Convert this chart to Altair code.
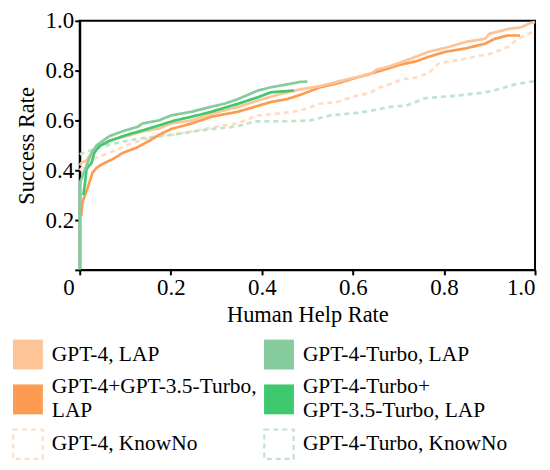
import altair as alt
import pandas as pd

FONT = "Liberation Serif"

SERIES = [
    "GPT-4, KnowNo",
    "GPT-4-Turbo, KnowNo",
    "GPT-4+GPT-3.5-Turbo, LAP",
    "GPT-4, LAP",
    "GPT-4-Turbo+GPT-3.5-Turbo, LAP",
    "GPT-4-Turbo, LAP",
]
COLORS = ["#FEDDC4", "#BFE4CB", "#FD9C50", "#FDC497", "#3FC96F", "#86CB9C"]
DASHES = [[5, 4], [5, 4], [1, 0], [1, 0], [1, 0], [1, 0]]

# GPT-4, LAP
g4_lap_x = [0, 0.004, 0.015, 0.026, 0.043, 0.065, 0.10, 0.138, 0.174, 0.202, 0.246, 0.289, 0.348, 0.391,
            0.441, 0.485, 0.528, 0.572, 0.608, 0.637, 0.652, 0.68, 0.702, 0.73, 0.767, 0.811, 0.847, 0.89,
            0.90, 0.94, 0.97, 0.988, 1.0]
g4_lap_y = [0.42, 0.43, 0.44, 0.47, 0.497, 0.52, 0.536, 0.555, 0.568, 0.588, 0.60, 0.627, 0.654, 0.68,
            0.706, 0.725, 0.738, 0.758, 0.774, 0.784, 0.804, 0.817, 0.831, 0.85, 0.876, 0.895, 0.915, 0.928,
            0.948, 0.967, 0.974, 0.99, 0.995]

# GPT-4+GPT-3.5-Turbo, LAP
g4mix_lap_x = [0.003, 0.0065, 0.017, 0.028, 0.037, 0.05, 0.073, 0.095, 0.124, 0.152, 0.174, 0.20, 0.246,
               0.289, 0.348, 0.383, 0.42, 0.456, 0.485, 0.528, 0.572, 0.608, 0.643, 0.68, 0.702, 0.738,
               0.767, 0.804, 0.847, 0.89, 0.912, 0.94, 0.967]
g4mix_lap_y = [0.216, 0.275, 0.327, 0.39, 0.41, 0.425, 0.445, 0.47, 0.49, 0.517, 0.542, 0.565, 0.588,
               0.615, 0.635, 0.654, 0.674, 0.686, 0.703, 0.733, 0.752, 0.772, 0.79, 0.81, 0.823, 0.837,
               0.856, 0.876, 0.889, 0.908, 0.928, 0.941, 0.941]

# GPT-4, KnowNo
g4_kn_x = [0, 0.022, 0.037, 0.065, 0.10, 0.138, 0.18, 0.202, 0.246, 0.304, 0.347, 0.39, 0.434, 0.485,
           0.528, 0.565, 0.608, 0.637, 0.659, 0.68, 0.709, 0.738, 0.767, 0.789, 0.833, 0.869, 0.905, 0.94,
           0.963, 1.0]
g4_kn_y = [0.40, 0.44, 0.45, 0.47, 0.497, 0.523, 0.54, 0.542, 0.556, 0.576, 0.588, 0.62, 0.627, 0.64,
           0.667, 0.674, 0.699, 0.71, 0.733, 0.745, 0.765, 0.772, 0.791, 0.83, 0.843, 0.856, 0.869, 0.895,
           0.928, 0.96]

# GPT-4-Turbo, LAP
g4t_lap_x = [0, 0, 0.004, 0.015, 0.026, 0.037, 0.065, 0.10, 0.128, 0.138, 0.174, 0.20, 0.246, 0.289,
             0.318, 0.348, 0.391, 0.42, 0.456, 0.485, 0.50]
g4t_lap_y = [0.0, 0.35, 0.366, 0.42, 0.47, 0.50, 0.537, 0.56, 0.575, 0.588, 0.60, 0.62, 0.635, 0.655,
             0.667, 0.686, 0.72, 0.733, 0.745, 0.755, 0.756]

# GPT-4-Turbo+GPT-3.5-Turbo, LAP
g4tmix_lap_x = [0.008, 0.011, 0.015, 0.026, 0.032, 0.043, 0.065, 0.10, 0.138, 0.174, 0.205, 0.246, 0.289,
                0.348, 0.391, 0.42, 0.47]
g4tmix_lap_y = [0.30, 0.34, 0.405, 0.43, 0.47, 0.497, 0.517, 0.54, 0.56, 0.58, 0.598, 0.615, 0.635,
                0.667, 0.693, 0.713, 0.72]

# GPT-4-Turbo, KnowNo
g4t_kn_x = [0, 0.03, 0.065, 0.10, 0.138, 0.174, 0.205, 0.274, 0.347, 0.383, 0.42, 0.485, 0.506, 0.55,
            0.608, 0.643, 0.68, 0.717, 0.738, 0.76, 0.833, 0.89, 0.92, 0.956, 1.0]
g4t_kn_y = [0.464, 0.484, 0.503, 0.517, 0.529, 0.536, 0.543, 0.562, 0.576, 0.596, 0.596, 0.598, 0.60,
            0.62, 0.63, 0.64, 0.654, 0.66, 0.674, 0.69, 0.70, 0.713, 0.725, 0.745, 0.758]

SERIES_DATA = {
    "GPT-4, KnowNo": (g4_kn_x, g4_kn_y),
    "GPT-4-Turbo, KnowNo": (g4t_kn_x, g4t_kn_y),
    "GPT-4+GPT-3.5-Turbo, LAP": (g4mix_lap_x, g4mix_lap_y),
    "GPT-4, LAP": (g4_lap_x, g4_lap_y),
    "GPT-4-Turbo+GPT-3.5-Turbo, LAP": (g4tmix_lap_x, g4tmix_lap_y),
    "GPT-4-Turbo, LAP": (g4t_lap_x, g4t_lap_y),
}

# Legend (row-major, 2 columns)
LEGEND_SERIES = [
    "GPT-4, LAP", "GPT-4-Turbo, LAP",
    "GPT-4+GPT-3.5-Turbo, LAP", "GPT-4-Turbo+GPT-3.5-Turbo, LAP",
    "GPT-4, KnowNo", "GPT-4-Turbo, KnowNo",
]
LEGEND_LABELS = [
    "GPT-4, LAP", "GPT-4-Turbo, LAP",
    "GPT-4+GPT-3.5-Turbo,\nLAP", "GPT-4-Turbo+\nGPT-3.5-Turbo, LAP",
    "GPT-4, KnowNo", "GPT-4-Turbo, KnowNo",
]
LEGEND_COL = [0, 1, 0, 1, 0, 1]
LEGEND_ROW = [0, 0, 1, 1, 2, 2]
LEGEND_KIND = ["LAP", "LAP", "LAP", "LAP", "KnowNo", "KnowNo"]

TICKS = [0, 0.2, 0.4, 0.6, 0.8, 1.0]

rows = []
for s in SERIES:
    xs, ys = SERIES_DATA[s]
    for i, (xv, yv) in enumerate(zip(xs, ys)):
        rows.append({"series": s, "x": xv, "y": yv, "i": i})
df = pd.DataFrame(rows)

color_scale = alt.Scale(domain=SERIES, range=COLORS)

main = alt.Chart(df).mark_line(strokeWidth=2.7).encode(
    x=alt.X("x:Q", scale=alt.Scale(domain=[0, 1], nice=False),
            axis=alt.Axis(values=TICKS, title="Human Help Rate", titlePadding=4,
                          labelExpr="datum.value == 0 ? '0' : format(datum.value, '.1f')",
                          labelOffset={"condition": {"test": "datum.value == 0", "value": -17}, "value": 0},
                          labelPadding=2)),
    y=alt.Y("y:Q", scale=alt.Scale(domain=[0, 1], nice=False),
            axis=alt.Axis(values=TICKS, title="Success Rate", titlePadding=7,
                          labelExpr="datum.value == 0 ? '' : format(datum.value, '.1f')",
                          labelPadding=1)),
    color=alt.Color("series:N", scale=color_scale, legend=None),
    strokeDash=alt.StrokeDash("series:N", scale=alt.Scale(domain=SERIES, range=DASHES), legend=None),
    order="i:Q",
).properties(width=457, height=250,
             view=alt.ViewBackground(stroke="black", strokeWidth=2))

leg_df = pd.DataFrame({
    "series": LEGEND_SERIES, "label": LEGEND_LABELS,
    "col": LEGEND_COL, "row": LEGEND_ROW, "kind": LEGEND_KIND,
})

lx = alt.X("col:Q", scale=alt.Scale(domain=[0, 1], range=[-52, 200]), axis=None)
ly = alt.Y("row:Q", scale=alt.Scale(domain=[0, 2], range=[26, 116]), axis=None)

leg_fill = alt.Chart(leg_df).transform_filter("datum.kind == 'LAP'").mark_square(
    size=900, opacity=1, filled=True).encode(
    x=lx, y=ly, color=alt.Color("series:N", scale=color_scale, legend=None))

leg_dash = alt.Chart(leg_df).transform_filter("datum.kind == 'KnowNo'").mark_square(
    size=870, opacity=1, filled=False, strokeWidth=2.2, strokeDash=[5, 4]).encode(
    x=lx, y=ly, color=alt.Color("series:N", scale=color_scale, legend=None))

leg_text1 = alt.Chart(leg_df).transform_filter("indexof(datum.label, '\\n') < 0").mark_text(
    align="left", baseline="middle", dx=24, font=FONT, fontSize=21.5, color="black").encode(
    x=lx, y=ly, text="label:N")

leg_text2 = alt.Chart(leg_df).transform_filter("indexof(datum.label, '\\n') >= 0").mark_text(
    align="left", baseline="middle", dx=24, dy=-12, font=FONT, fontSize=21.5,
    lineBreak="\n", lineHeight=24, color="black").encode(
    x=lx, y=ly, text="label:N")

legend = alt.layer(leg_fill, leg_dash, leg_text1, leg_text2).properties(
    width=457, height=100, view=alt.ViewBackground(stroke="transparent"))

chart = alt.vconcat(main, legend, spacing=0).properties(
    padding={"left": 0, "top": 0, "right": 0, "bottom": 0}
).configure_axis(
    domainColor="black", domainWidth=2, tickColor="black", tickWidth=2, tickSize=5,
    labelFont=FONT, labelFontSize=23, labelColor="black",
    titleFont=FONT, titleFontSize=22.5, titleFontWeight="normal", titleColor="black",
    grid=False,
)

chart.save("out.html", embed_options={"renderer": "svg", "actions": False})
